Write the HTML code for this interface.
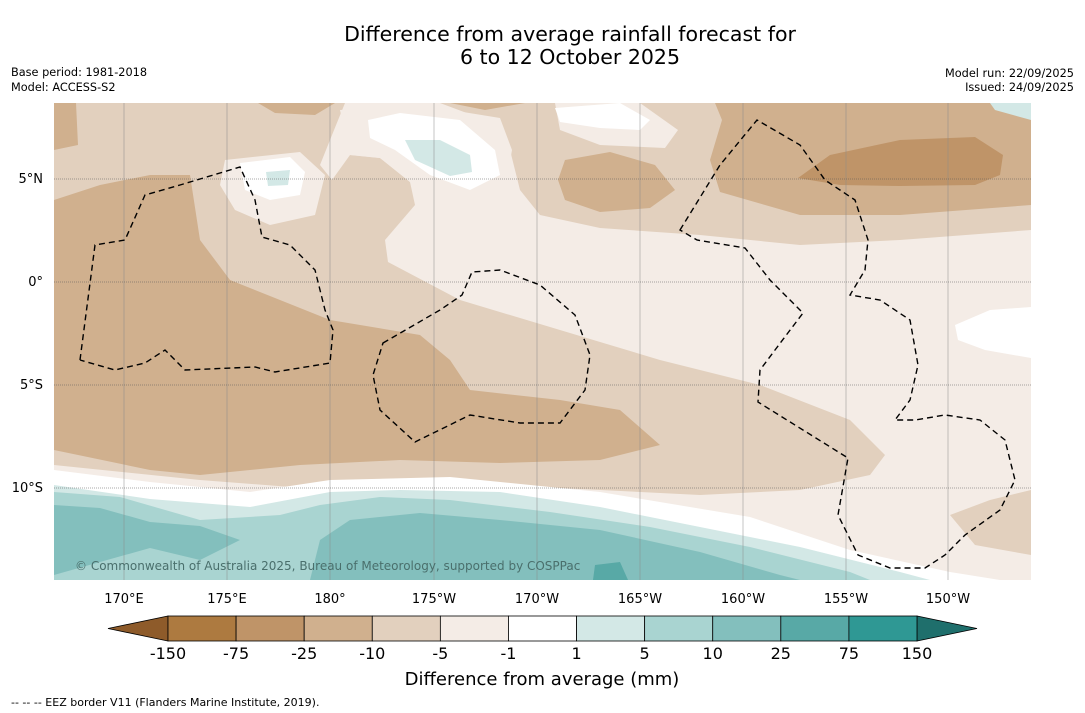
<!DOCTYPE html>
<html><head><meta charset="utf-8"><style>
body{margin:0;background:#fff;font-family:"DejaVu Sans",sans-serif;}
svg{display:block}
</style></head><body>
<svg width="1085" height="713" xmlns="http://www.w3.org/2000/svg" font-family="DejaVu Sans, sans-serif">
<text x="570" y="41" font-size="20.5" text-anchor="middle">Difference from average rainfall forecast for</text>
<text x="570" y="64" font-size="20.5" text-anchor="middle">6 to 12 October 2025</text>
<text x="11" y="76" font-size="11.3">Base period: 1981-2018</text>
<text x="11" y="91" font-size="11.3">Model: ACCESS-S2</text>
<text x="1074" y="77" font-size="11.3" text-anchor="end">Model run: 22/09/2025</text>
<text x="1074" y="91" font-size="11.3" text-anchor="end">Issued: 24/09/2025</text>
<defs><clipPath id="mc"><rect x="54" y="103" width="977" height="477"/></clipPath></defs>
<g clip-path="url(#mc)">
<rect x="54" y="103" width="977" height="477" fill="#f4ece6"/>
<polygon fill="#e2d0be" points="54,103 345,103 330,140 320,165 332,180 350,155 380,158 410,182 415,205 385,240 388,262 460,300 560,330 660,360 760,385 850,420 885,455 870,475 800,490 700,495 600,490 500,485 400,488 330,490 200,480 54,465"/>
<polygon fill="#e2d0be" points="440,103 1031,103 1031,230 900,240 800,245 700,235 600,228 540,215 520,190 510,150 480,118"/>
<polygon fill="#e2d0be" points="1031,490 990,500 950,515 975,545 1031,555"/>
<polygon fill="#f4ece6" points="555,103 640,103 678,130 665,148 600,145 560,130"/>
<polygon fill="#f4ece6" points="340,110 420,105 500,118 512,150 505,190 470,195 410,182 380,158 350,155"/>
<polygon fill="#f4ece6" points="225,160 300,152 325,175 315,215 270,225 235,210 220,185"/>
<polygon fill="#d0b08e" points="54,200 100,185 150,175 190,175 200,240 230,280 280,300 330,320 420,335 450,360 470,390 560,400 620,410 660,445 600,460 500,463 400,460 300,465 200,475 150,470 54,450"/>
<polygon fill="#d0b08e" points="54,103 76,103 78,145 54,150"/>
<polygon fill="#d0b08e" points="258,103 335,103 315,115 275,113"/>
<polygon fill="#d0b08e" points="450,103 525,103 485,110"/>
<polygon fill="#d0b08e" points="715,103 1031,103 1031,205 900,215 800,215 720,192 710,160 722,120"/>
<polygon fill="#d0b08e" points="565,160 610,152 655,165 675,190 650,208 600,212 565,200 558,180"/>
<polygon fill="#bf9468" points="798,178 830,155 900,140 975,137 1003,155 1000,175 975,185 900,186 840,185"/>
<polygon fill="#fff" points="368,120 400,113 460,120 495,150 500,175 470,190 430,175 395,150 370,138"/>
<polygon fill="#fff" points="555,108 620,103 650,120 640,130 600,128 560,122"/>
<polygon fill="#fff" points="240,163 290,157 305,172 300,195 270,200 245,190"/>
<polygon fill="#fff" points="955,325 990,310 1031,307 1031,358 985,350 958,340"/>
<polygon fill="#d3e8e6" points="405,140 440,140 470,155 472,172 450,176 415,160"/>
<polygon fill="#d3e8e6" points="266,172 290,170 288,185 268,186"/>
<polygon fill="#d3e8e6" points="990,103 1031,103 1031,120 995,110"/>
<polygon fill="#fff" points="54,470 150,482 250,492 330,480 450,477 600,492 750,517 850,550 950,572 1000,580 54,580"/>
<polygon fill="#d3e8e6" points="54,485 150,499 250,507 330,492 400,490 500,492 600,507 700,527 800,547 900,572 930,580 54,580"/>
<polygon fill="#a9d4d1" points="54,492 120,497 200,520 280,515 320,505 380,497 450,500 550,512 650,527 750,547 850,572 870,580 54,580"/>
<polygon fill="#83bfbd" points="54,505 100,508 150,522 200,526 240,540 200,560 150,548 100,562 54,575"/>
<polygon fill="#83bfbd" points="310,580 320,540 350,520 420,513 500,520 600,530 700,552 780,575 800,580"/>
<polygon fill="#58a9a6" points="595,565 620,562 628,580 593,580"/>
<g stroke="#8a8a8a" stroke-width="0.5">
<line x1="124" y1="103" x2="124" y2="580"/><line x1="227" y1="103" x2="227" y2="580"/><line x1="330" y1="103" x2="330" y2="580"/><line x1="434" y1="103" x2="434" y2="580"/><line x1="537" y1="103" x2="537" y2="580"/><line x1="640" y1="103" x2="640" y2="580"/><line x1="743" y1="103" x2="743" y2="580"/><line x1="846" y1="103" x2="846" y2="580"/><line x1="948" y1="103" x2="948" y2="580"/>
<g stroke-dasharray="1,1" stroke="#555"><line x1="54" y1="179" x2="1031" y2="179"/><line x1="54" y1="282" x2="1031" y2="282"/><line x1="54" y1="385" x2="1031" y2="385"/><line x1="54" y1="488" x2="1031" y2="488"/></g>
</g>
<g fill="none" stroke="#000" stroke-width="1.4" stroke-dasharray="6,4">
<path d="M80,360 L95,245 L125,240 L145,195 L180,185 L240,167 L255,200 L262,237 L290,245 L315,270 L325,310 L333,330 L330,363 L275,372 L255,367 L185,370 L165,350 L145,363 L115,370 L80,360"/>
<path d="M383,343 L440,310 L462,295 L472,272 L500,270 L540,285 L575,315 L590,355 L585,390 L560,423 L520,423 L470,415 L415,442 L380,410 L373,375 Z"/>
<path d="M680,230 L720,165 L757,120 L800,145 L825,180 L855,200 L868,240 L865,270 L850,295 L880,300 L910,320 L918,365 L910,400 L895,420 L915,420 L945,415 L980,420 L1005,440 L1015,480 L1000,510 L965,535 L945,555 L925,568 L890,568 L858,555 L838,515 L848,458 L758,402 L760,370 L775,350 L803,313 L770,280 L745,248 L697,240 Z"/>
</g>
<text x="75" y="570" font-size="12" fill="#4a6f6c">© Commonwealth of Australia 2025, Bureau of Meteorology, supported by COSPPac</text>
</g>
<g font-size="13">
<text x="43" y="183" text-anchor="end">5°N</text><text x="43" y="286" text-anchor="end">0°</text><text x="43" y="389" text-anchor="end">5°S</text><text x="43" y="492" text-anchor="end">10°S</text>
</g>
<g font-size="13" text-anchor="middle">
<text x="124" y="603">170°E</text><text x="227" y="603">175°E</text><text x="330" y="603">180°</text><text x="434" y="603">175°W</text><text x="537" y="603">170°W</text><text x="640" y="603">165°W</text><text x="743" y="603">160°W</text><text x="846" y="603">155°W</text><text x="948" y="603">150°W</text>
</g>
<g id="cbar"></g>
<text x="542" y="685" font-size="18" text-anchor="middle">Difference from average (mm)</text>
<text x="11" y="706" font-size="11">--  --  -- EEZ border V11 (Flanders Marine Institute, 2019).</text>
</svg>
<script>
const cbLabels=["-150","-75","-25","-10","-5","-1","1","5","10","25","75","150"];
const cbColors=["#ad7a40","#bf9468","#d0b08e","#e2d0be","#f4ece6","#ffffff","#d3e8e6","#a9d4d1","#83bfbd","#58a9a6","#2f9894"];
const ns="http://www.w3.org/2000/svg";
const g=document.getElementById('cbar');
const x0=168,x1=917,y0=616,h=25,w=(x1-x0)/cbColors.length;
function mk(t,a){const e=document.createElementNS(ns,t);for(const k in a)e.setAttribute(k,a[k]);g.appendChild(e);return e;}
let l=mk('polygon',{points:`108,${y0+h/2} ${x0},${y0} ${x0},${y0+h}`,fill:'#8e5b2a',stroke:'#000','stroke-width':0.8});


let r=mk('polygon',{points:`977,${y0+h/2} ${x1},${y0} ${x1},${y0+h}`,fill:'#1f6f6c',stroke:'#000','stroke-width':0.8});


cbColors.forEach((c,i)=>{const e=mk('rect',{x:x0+i*w,y:y0,width:w,height:h,fill:c,stroke:'#000','stroke-width':0.8});

});
cbLabels.forEach((s,i)=>{const t=mk('text',{x:x0+i*w,y:659,'font-size':16,'text-anchor':'middle'});t.textContent=s;

});
</script>
</body></html>
